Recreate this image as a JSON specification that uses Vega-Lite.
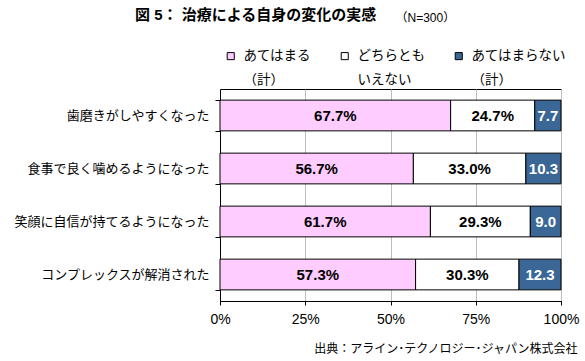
{
  "$schema": "https://vega.github.io/schema/vega-lite/v6.json",
  "autosize": "none",
  "width": 341,
  "height": 212,
  "padding": {"left": 220, "top": 89, "right": 24, "bottom": 60},
  "background": "white",
  "title": {
    "text": "図 5：\u00a0治療による自身の変化の実感",
    "anchor": "start",
    "frame": "group",
    "dx": -85,
    "dy": 12,
    "offset": 0,
    "font": "Liberation Sans, Noto Sans CJK JP",
    "fontSize": 15,
    "fontWeight": "bold",
    "color": "black"
  },
  "data": {
    "values": [
      {"item": "歯磨きがしやすくなった", "cat": "あてはまる（計）", "order": 1, "v": 67.7, "label": "67.7%"},
      {"item": "歯磨きがしやすくなった", "cat": "どちらともいえない", "order": 2, "v": 24.7, "label": "24.7%"},
      {"item": "歯磨きがしやすくなった", "cat": "あてはまらない（計）", "order": 3, "v": 7.7, "label": "7.7"},
      {"item": "食事で良く噛めるようになった", "cat": "あてはまる（計）", "order": 1, "v": 56.7, "label": "56.7%"},
      {"item": "食事で良く噛めるようになった", "cat": "どちらともいえない", "order": 2, "v": 33.0, "label": "33.0%"},
      {"item": "食事で良く噛めるようになった", "cat": "あてはまらない（計）", "order": 3, "v": 10.3, "label": "10.3"},
      {"item": "笑顔に自信が持てるようになった", "cat": "あてはまる（計）", "order": 1, "v": 61.7, "label": "61.7%"},
      {"item": "笑顔に自信が持てるようになった", "cat": "どちらともいえない", "order": 2, "v": 29.3, "label": "29.3%"},
      {"item": "笑顔に自信が持てるようになった", "cat": "あてはまらない（計）", "order": 3, "v": 9.0, "label": "9.0"},
      {"item": "コンプレックスが解消された", "cat": "あてはまる（計）", "order": 1, "v": 57.3, "label": "57.3%"},
      {"item": "コンプレックスが解消された", "cat": "どちらともいえない", "order": 2, "v": 30.3, "label": "30.3%"},
      {"item": "コンプレックスが解消された", "cat": "あてはまらない（計）", "order": 3, "v": 12.3, "label": "12.3"}
    ]
  },
  "encoding": {
    "y": {
      "field": "item",
      "type": "nominal",
      "sort": null,
      "scale": {"paddingInner": 0.42, "paddingOuter": 0.21},
      "axis": {
        "title": "（N=300）",
        "titleAngle": 0,
        "titleX": 175,
        "titleY": -72,
        "titleAlign": "left",
        "titleBaseline": "middle",
        "titleFont": "Liberation Sans, Noto Sans CJK JP",
        "titleFontSize": 12,
        "titleFontWeight": "normal",
        "titleColor": "black",
        "tickBand": "extent",
        "tickSize": 5,
        "tickColor": "black",
        "domainColor": "black",
        "labelFont": "Liberation Sans, Noto Sans CJK JP",
        "labelFontSize": 13,
        "labelColor": "black",
        "labelPadding": 6,
        "labelLimit": 300,
        "grid": false
      }
    },
    "x": {
      "field": "v",
      "type": "quantitative",
      "stack": "normalize",
      "axis": {
        "values": [0, 0.25, 0.5, 0.75, 1],
        "format": ".0%",
        "title": "出典：アライン･テクノロジー･ジャパン株式会社",
        "titleX": 357,
        "titleY": 47,
        "titleAlign": "right",
        "titleBaseline": "middle",
        "titleFont": "Liberation Sans, Noto Sans CJK JP",
        "titleFontSize": 12,
        "titleFontWeight": "normal",
        "titleColor": "black",
        "labelFont": "Liberation Sans",
        "labelFontSize": 14,
        "labelColor": "black",
        "labelPadding": 7,
        "tickSize": 4,
        "tickColor": "black",
        "domainColor": "black",
        "grid": true,
        "gridColor": "#bdbdbd",
        "labelFlush": false
      }
    },
    "order": {"field": "order", "type": "quantitative"}
  },
  "layer": [
    {
      "mark": {"type": "bar", "stroke": "black", "strokeWidth": 1},
      "encoding": {
        "color": {
          "field": "cat",
          "type": "nominal",
          "sort": ["あてはまる（計）", "どちらともいえない", "あてはまらない（計）"],
          "scale": {"domain": ["あてはまる（計）", "どちらともいえない", "あてはまらない（計）"], "range": ["#FFCCFF", "#FFFFFF", "#3A6795"]},
          "legend": {
            "title": null,
            "orient": "none",
            "legendX": 4,
            "legendY": -40,
            "direction": "horizontal",
            "columns": 3,
            "gridAlign": "each",
            "columnPadding": 27,
            "symbolType": "square",
            "symbolSize": 50,
            "symbolStrokeColor": "black",
            "symbolStrokeWidth": 1,
            "labelFont": "Liberation Sans, Noto Sans CJK JP",
            "labelFontSize": 13.5,
            "labelColor": "black",
            "labelOffset": 6,
            "labelLimit": 200,
            "labelExpr": "datum.label == 'あてはまる（計）' ? ['あてはまる\u00a0\u00a0\u00a0\u00a0\u00a0', '（計）'] : datum.label == 'どちらともいえない' ? ['どちらとも', 'いえない'] : ['あてはまらない', '（計）']"
          }
        }
      }
    },
    {
      "mark": {"type": "text", "font": "Liberation Sans", "fontSize": 15, "fontWeight": "bold"},
      "encoding": {
        "x": {"field": "v", "type": "quantitative", "stack": "normalize", "bandPosition": 0.5},
        "text": {"field": "label"},
        "color": {
          "condition": {"test": "datum.cat === 'あてはまらない（計）'", "value": "white"},
          "value": "black"
        }
      }
    }
  ],
  "config": {
    "view": {"stroke": "black", "strokeWidth": 1},
    "style": {"guide-label": {"lineHeight": 24}}
  }
}
